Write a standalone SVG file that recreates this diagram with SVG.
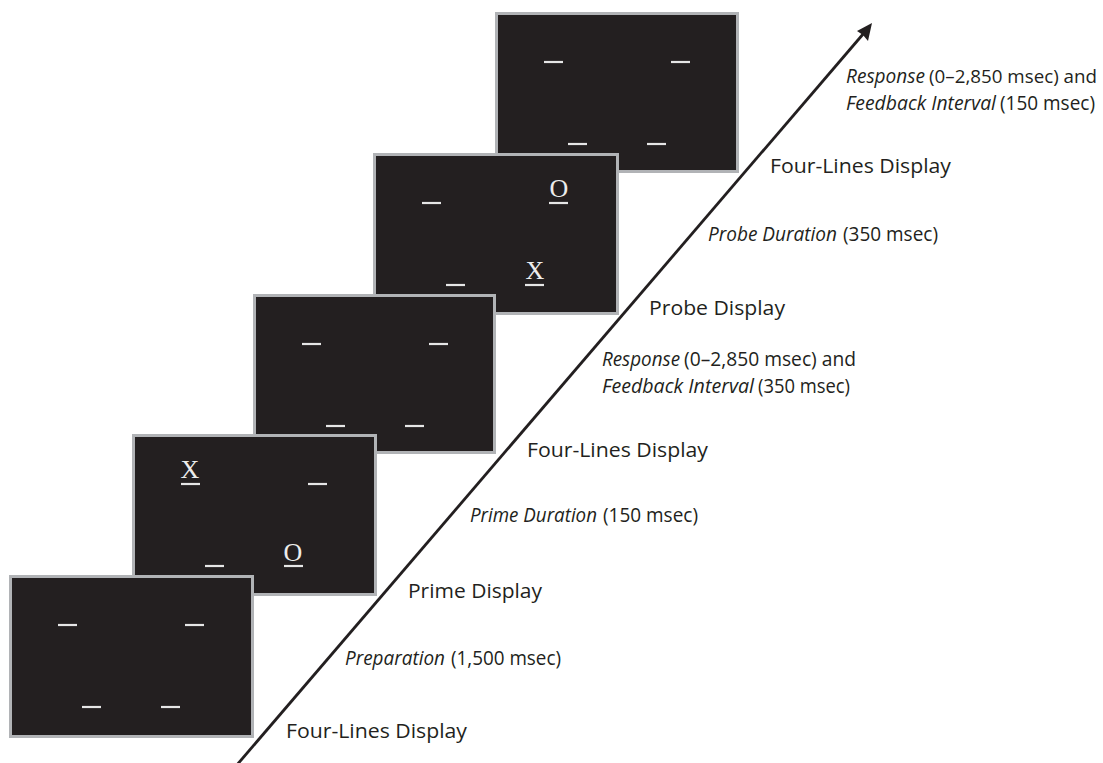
<svg xmlns="http://www.w3.org/2000/svg" width="1103" height="763" viewBox="0 0 1103 763">
<style>
.scr{fill:#231f20;stroke:#b1b3b6;stroke-width:3}
.dash{stroke:#e6e6e6;stroke-width:2.2}
.sym{font-family:"Liberation Serif","Times New Roman",serif;font-size:26px;fill:#ececec;text-anchor:middle}
.lbl{font-family:"Open Sans","Noto Sans",sans-serif;font-size:20.5px;fill:#231f20}
.it{font-style:italic}
</style>
<defs>
<g id="dashes">
<line class="dash" x1="49" y1="50" x2="68" y2="50"/>
<line class="dash" x1="176" y1="50" x2="195" y2="50"/>
<line class="dash" x1="73" y1="132" x2="92" y2="132"/>
<line class="dash" x1="152" y1="132" x2="171" y2="132"/>
</g>
</defs>
<g id="screen5" transform="translate(495,12)">
<rect class="scr" x="1.5" y="1.5" width="241" height="158"/>
<use href="#dashes"/>
</g>
<g id="screen4" transform="translate(373,153)">
<rect class="scr" x="1.5" y="1.5" width="243" height="159"/>
<use href="#dashes"/>
<text class="sym" x="186" y="44">O</text>
<text class="sym" x="162" y="126">X</text>
</g>
<g id="screen3" transform="translate(253,294)">
<rect class="scr" x="1.5" y="1.5" width="240" height="157"/>
<use href="#dashes"/>
</g>
<g id="screen2" transform="translate(132,434)">
<rect class="scr" x="1.5" y="1.5" width="242" height="159"/>
<use href="#dashes"/>
<text class="sym" x="58" y="44">X</text>
<text class="sym" x="161" y="127">O</text>
</g>
<g id="screen1" transform="translate(9,575)">
<rect class="scr" x="1.5" y="1.5" width="242" height="160"/>
<use href="#dashes"/>
</g>
<g id="connectors">
<line x1="236" y1="766" x2="864" y2="33" stroke="#231f20" stroke-width="2.8"/>
<polygon points="872,23 868,41 863,35 857,31" fill="#231f20"/>
</g>
<g id="labels">
<text class="lbl" x="286" y="738" textLength="181" lengthAdjust="spacingAndGlyphs">Four-Lines Display</text>
<g id="lbl-preparation">
<text class="lbl it" x="345" y="665" textLength="100" lengthAdjust="spacingAndGlyphs">Preparation</text>
<text class="lbl" x="451" y="665" textLength="110" lengthAdjust="spacingAndGlyphs">(1,500 msec)</text>
</g>
<text class="lbl" x="408" y="598" textLength="134" lengthAdjust="spacingAndGlyphs">Prime Display</text>
<g id="lbl-prime-duration">
<text class="lbl it" x="470" y="522" textLength="127" lengthAdjust="spacingAndGlyphs">Prime Duration</text>
<text class="lbl" x="603" y="522" textLength="95" lengthAdjust="spacingAndGlyphs">(150 msec)</text>
</g>
<text class="lbl" x="527" y="457" textLength="181" lengthAdjust="spacingAndGlyphs">Four-Lines Display</text>
<g id="lbl-response-1">
<text class="lbl it" x="602" y="366" textLength="78" lengthAdjust="spacingAndGlyphs">Response</text>
<text class="lbl" x="684" y="366" textLength="172" lengthAdjust="spacingAndGlyphs">(0–2,850 msec) and</text>
<text class="lbl it" x="602" y="393" textLength="152" lengthAdjust="spacingAndGlyphs">Feedback Interval</text>
<text class="lbl" x="758" y="393" textLength="92" lengthAdjust="spacingAndGlyphs">(350 msec)</text>
</g>
<text class="lbl" x="649" y="315" textLength="136" lengthAdjust="spacingAndGlyphs">Probe Display</text>
<g id="lbl-probe-duration">
<text class="lbl it" x="708" y="241" textLength="129" lengthAdjust="spacingAndGlyphs">Probe Duration</text>
<text class="lbl" x="843" y="241" textLength="95" lengthAdjust="spacingAndGlyphs">(350 msec)</text>
</g>
<text class="lbl" x="770" y="173" textLength="181" lengthAdjust="spacingAndGlyphs">Four-Lines Display</text>
<g id="lbl-response-2">
<text class="lbl it" x="846" y="83" textLength="79" lengthAdjust="spacingAndGlyphs">Response</text>
<text class="lbl" x="929" y="83" font-size="19" textLength="168" lengthAdjust="spacingAndGlyphs" style="font-size:19px">(0–2,850 msec) and</text>
<text class="lbl it" x="846" y="110" textLength="150" lengthAdjust="spacingAndGlyphs">Feedback Interval</text>
<text class="lbl" x="1000" y="110" textLength="95" lengthAdjust="spacingAndGlyphs">(150 msec)</text>
</g>
</g>
</svg>
